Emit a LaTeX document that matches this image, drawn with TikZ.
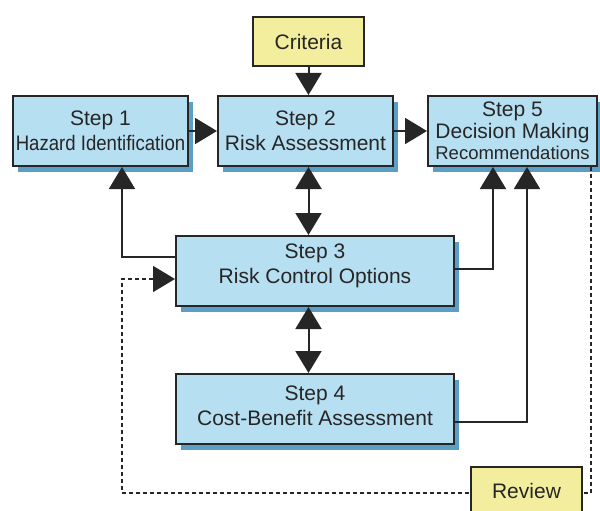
\documentclass[tikz,border=0pt]{standalone}
\usepackage{fontspec}
\setmainfont{Liberation Sans}
\usepackage{graphicx}
\usetikzlibrary{arrows.meta,shadows,calc}
\definecolor{boxblue}{HTML}{B7DFF2}
\definecolor{shadeblue}{HTML}{5C9FC6}
\definecolor{crityellow}{HTML}{F3EE9E}
\definecolor{edgegray}{HTML}{262626}
\begin{document}
\begin{tikzpicture}[x=1pt,y=-1pt,
  stepbox/.style={draw=edgegray, line width=2pt, fill=boxblue,
    general shadow={fill=shadeblue, shadow xshift=5pt, shadow yshift=-6pt},
    align=center, text=edgegray, font=\fontsize{21}{25}\selectfont, inner sep=0pt},
  txt/.style={align=center, text=edgegray, font=\fontsize{21}{25}\selectfont, inner sep=0pt},
  ybox/.style={draw=edgegray, line width=2pt, fill=crityellow, text=edgegray,
    font=\fontsize{21}{25}\selectfont, inner sep=0pt},
  conn/.style={draw=edgegray, line width=2pt},
  arr/.style={conn, -{Triangle[length=22pt,width=26pt]}},
  darr/.style={conn, {Triangle[length=22pt,width=26pt]}-{Triangle[length=22pt,width=26pt]}},
  dconn/.style={draw=edgegray, line width=1.5pt, dash pattern=on 4pt off 3pt,
    -{Triangle[length=22pt,width=26pt]}}]
\useasboundingbox (0,0) rectangle (600,511);
\node[ybox, minimum width=111pt, minimum height=49pt] (crit) at (308.5,41.5) {Criteria};
\node[stepbox, minimum width=175pt, minimum height=70pt] (s1) at (100.5,131)
  {Step 1\\\scalebox{0.885}[1]{Hazard Identification}};
\node[stepbox, minimum width=175pt, minimum height=70pt] (s2) at (305.5,131)
  {Step 2\\Risk Assessment};
\node[stepbox, minimum width=169pt, minimum height=70pt, font=\fontsize{21}{21.5}\selectfont] (s5) at (512.5,131)
  {Step 5\\Decision Making\\{\fontsize{18.5}{21.5}\selectfont Recommendations}};
\node[stepbox, minimum width=278pt, minimum height=70pt] (s3) at (315,271) {};
\node[txt] (s3t) at ([yshift=5pt]s3.center) {Step 3\\Risk Control Options};
\node[stepbox, minimum width=278pt, minimum height=70pt] (s4) at (315,409) {};
\node[txt] (s4t) at ([yshift=3pt]s4.center) {Step 4\\Cost-Benefit Assessment};
\draw[arr] (crit.south) -- (crit.south |- s2.north);
\draw[arr] (s1.east) -- (s2.west);
\draw[arr] (s2.east) -- (s5.west);
\draw[darr] (crit.south |- s2.south) -- (crit.south |- s3.north);
\draw[darr] (crit.south |- s3.south) -- (crit.south |- s4.north);
\draw[arr] ([yshift=14pt]s3.west) -| ([xshift=21.5pt]s1.south);
\draw[arr] ([yshift=2pt]s3.east) -| ([xshift=-19.5pt]s5.south);
\draw[arr] ([yshift=-13pt]s4.east) -| ([xshift=14.5pt]s5.south);
\coordinate (dl) at (122,493);
\draw[dconn] ([xshift=78.5pt]s5.south) |- (dl) |- ([yshift=-8pt]s3.west);
\node[ybox, minimum width=111pt, minimum height=48pt] (rev) at (526.5,491) {Review};
\end{tikzpicture}
\end{document}
